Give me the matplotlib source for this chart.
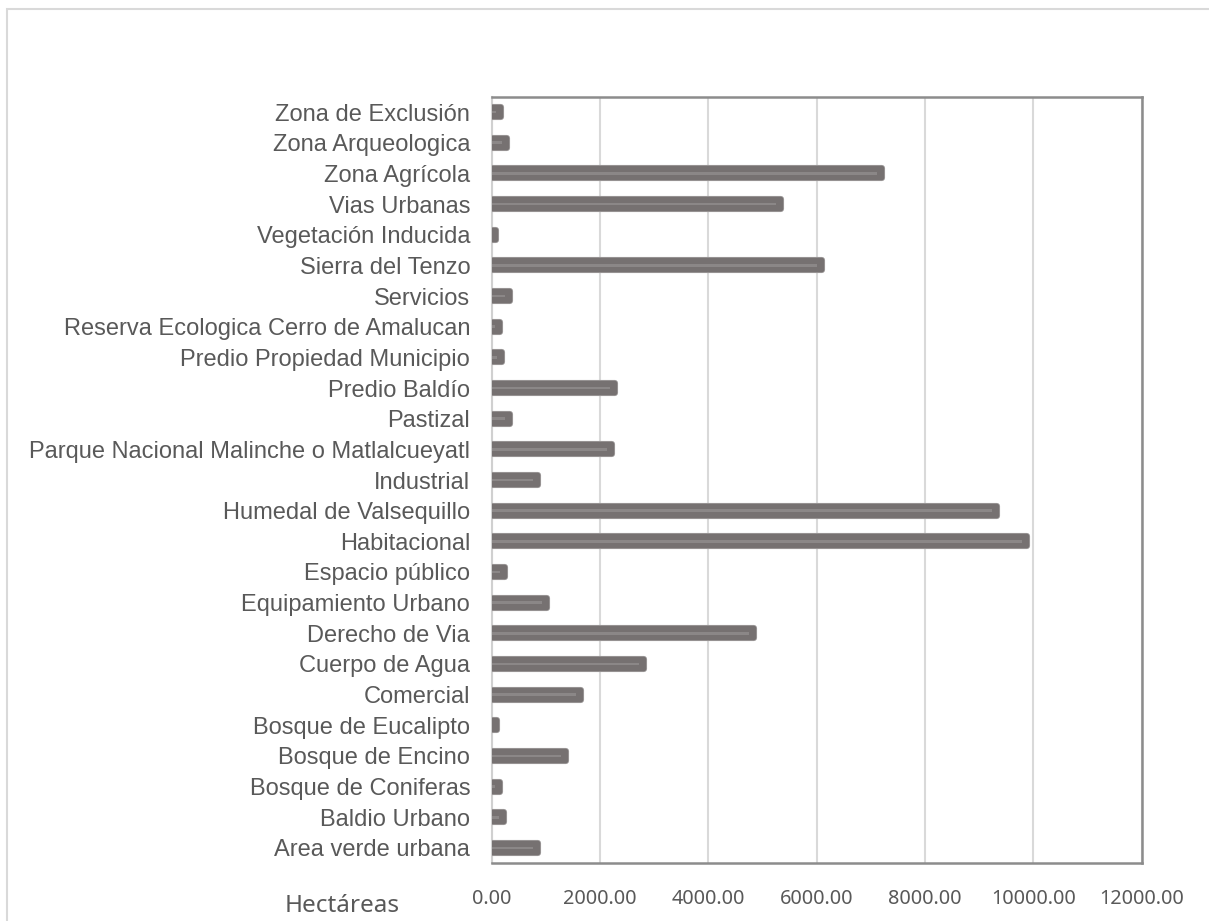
import matplotlib
matplotlib.use("Agg")
import matplotlib.pyplot as plt
from matplotlib.patches import Rectangle

categories = [
    "Area verde urbana", "Baldio Urbano", "Bosque de Coniferas", "Bosque de Encino",
    "Bosque de Eucalipto", "Comercial", "Cuerpo de Agua", "Derecho de Via",
    "Equipamiento Urbano", "Espacio público", "Habitacional", "Humedal de Valsequillo",
    "Industrial", "Parque Nacional Malinche o Matlalcueyatl", "Pastizal", "Predio Baldío",
    "Predio Propiedad Municipio", "Reserva Ecologica Cerro de Amalucan", "Servicios",
    "Sierra del Tenzo", "Vegetación Inducida", "Vias Urbanas", "Zona Agrícola",
    "Zona Arqueologica", "Zona de Exclusión",
]
hectareas = [
    850, 235, 145, 1380,
    90, 1650, 2820, 4850,
    1030, 240, 9880, 9320,
    860, 2230, 330, 2285,
    195, 150, 335,
    6095, 85, 5350, 7200,
    275, 170,
]
xticks = [0, 2000, 4000, 6000, 8000, 10000, 12000]
xlabel = "Hectáreas"

W, H = 1209, 921
fig = plt.figure(figsize=(W / 100, H / 100), dpi=100)
fig.patch.set_facecolor("white")

# outer light border
fig.add_artist(Rectangle((7 / W, -0.1), 1.2, 1.1 - 9 / H, transform=fig.transFigure,
                         fill=False, edgecolor="#d9d9d9", linewidth=1.5))

ax = fig.add_axes([491.7 / W, (H - 863.3) / H, 650 / W, (863.3 - 96.7) / H])

y = list(range(len(categories)))
px_per_unit = 650 / 12000.0
# base bar with lighter outline
ax.barh(y, hectareas, height=0.33, color="#767171", edgecolor="#a09c9c",
        linewidth=4.4, joinstyle="round", zorder=3)
ax.barh(y, hectareas, height=0.33, color="#767171", edgecolor="#767171",
        linewidth=3.2, joinstyle="round", zorder=3)
# lighter center stripe
stripe = [max(v - 5 / px_per_unit, 0) for v in hectareas]
ax.barh(y, stripe, height=0.09, color="#8b8787", linewidth=0, zorder=4)

ax.set_xlim(0, 12000)
ax.set_ylim(-0.5, len(categories) - 0.5)
ax.set_xticks(xticks)
ax.set_xticklabels([f"{t:.2f}" for t in xticks], fontfamily="Noto Sans",
                   fontsize=14.3, color="#595959")
ax.set_yticks(y)
ax.set_yticklabels(categories, fontfamily="Liberation Sans", fontsize=17, color="#595959")
ax.tick_params(axis="both", length=0)
ax.tick_params(axis="x", pad=18.5)
ax.tick_params(axis="y", pad=15.5)

ax.grid(axis="x", color="#d9d9d9", linewidth=1.5, zorder=0)
ax.set_axisbelow(True)
for s in ["top", "right", "bottom"]:
    ax.spines[s].set_color("#8c8c8c")
    ax.spines[s].set_linewidth(1.8)
ax.spines["left"].set_color("#d0d0d0")
ax.spines["left"].set_linewidth(1.5)

fig.text(342 / W, 1 - 906 / H, xlabel, fontfamily="Noto Sans", fontsize=17.5,
         color="#595959", ha="center", va="center")

fig.savefig("out.png", dpi=100)
